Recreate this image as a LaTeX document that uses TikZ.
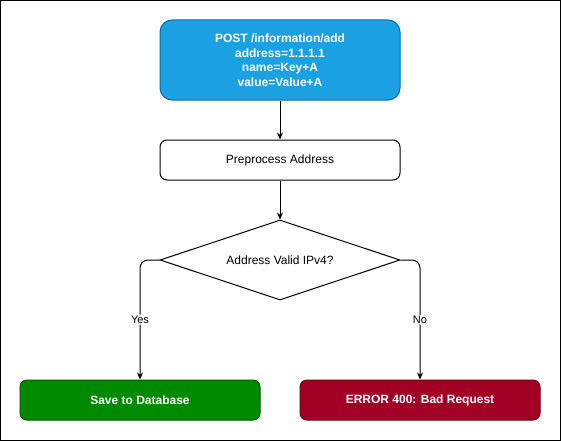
\documentclass[tikz,border=0pt]{standalone}
\usepackage{fontspec}
\setmainfont{Liberation Sans}
\usetikzlibrary{arrows.meta,shapes.geometric}
\definecolor{topfill}{HTML}{1BA1E2}
\definecolor{topdraw}{HTML}{006EAF}
\definecolor{okfill}{HTML}{008A00}
\definecolor{okdraw}{HTML}{005700}
\definecolor{errfill}{HTML}{A20025}
\definecolor{errdraw}{HTML}{6F0000}
\tikzset{
  x=1pt,y=-1pt,
  box/.style={rounded corners=7pt,minimum width=240pt,minimum height=40pt,inner sep=0pt,font=\fontsize{12}{14.5}\selectfont,align=center,line width=1pt},
  wtxt/.style={text=white,font=\bfseries\fontsize{12}{14.5}\selectfont},
  arr/.style={-{Stealth[length=7pt,width=6pt]},line width=1pt,rounded corners=8pt},
  lbl/.style={fill=white,inner sep=1pt,font=\fontsize{11}{13}\selectfont}
}
\begin{document}
\begin{tikzpicture}
\useasboundingbox (0,0) rectangle (561,441);
\draw[line width=1pt] (0.5,0.5) rectangle (560.5,440.5);
\node[box,wtxt,fill=topfill,draw=topdraw,minimum height=80pt,rounded corners=12pt] (post) at (280,60)
  {POST /information/add\\address=1.1.1.1\\name=Key+A\\value=Value+A};
\node[box,draw=black,fill=white] (pre) at (280,160) {Preprocess Address};
\node[diamond,draw=black,line width=1pt,minimum width=240pt,minimum height=80pt,aspect=3,inner sep=0pt,font=\fontsize{12}{14.5}\selectfont] (dec) at (280,260) {};
\node[font=\fontsize{12}{14.5}\selectfont] (dectxt) at (280,260) {Address Valid IPv4?};
\node[box,wtxt,fill=okfill,draw=okdraw] (save) at (140,400) {Save to Database};
\node[box,wtxt,fill=errfill,draw=errdraw] (err) at (420,400) {ERROR 400: Bad Request};
\draw[arr] (post.south) -- (pre.north);
\draw[arr] (pre.south) -- (dec.north);
\draw[arr] (dec.west) -- (save.north |- dec.west) -- node[lbl,pos=0.5] {Yes} (save.north);
\draw[arr] (dec.east) -- (err.north |- dec.east) -- node[lbl,pos=0.5] {No} (err.north);
\end{tikzpicture}
\end{document}
